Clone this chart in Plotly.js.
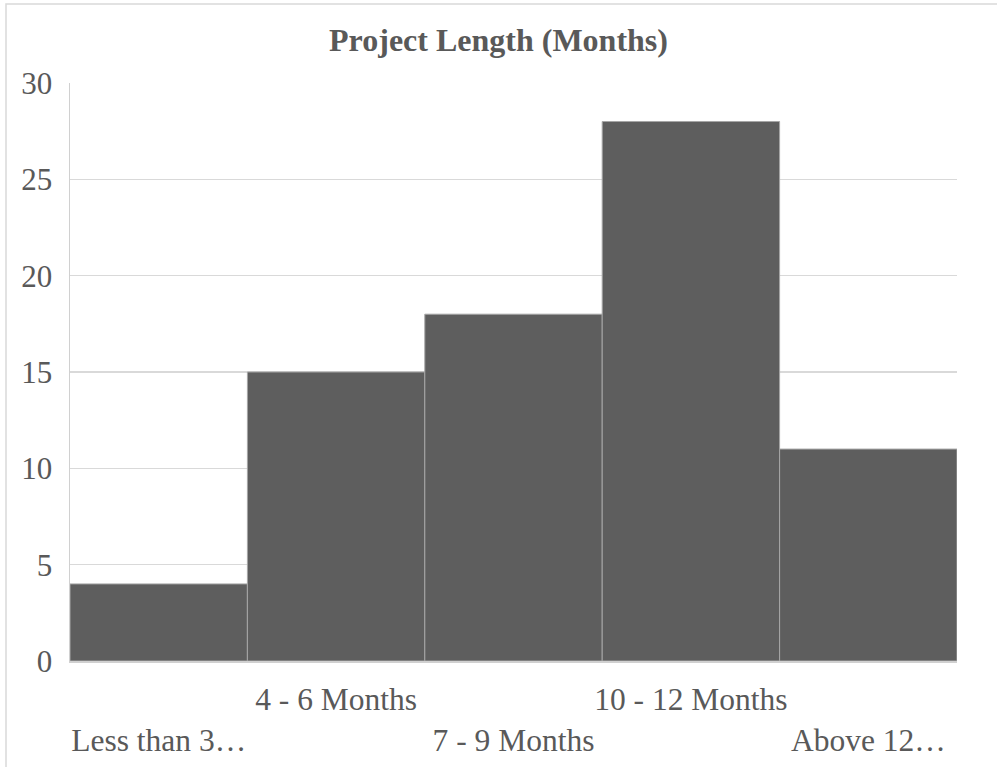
<!DOCTYPE html>
<html>
<head>
<meta charset="utf-8">
<script src="https://cdn.plot.ly/plotly-3.0.1.min.js"></script>
<style>
html,body{margin:0;padding:0;background:#fff;}
#chart{width:997px;height:767px;}
</style>
</head>
<body>
<div id="chart"></div>
<script>
const categories = ["Less than 3…", "4 - 6 Months", "7 - 9 Months", "10 - 12 Months", "Above 12…"];
const counts = [4, 15, 18, 28, 11];
const yTicks = [0, 5, 10, 15, 20, 25, 30];

// staggered labels: odd positions on first row, even positions on second row
const tickText = categories.map((c, i) => (i % 2 === 0 ? "<br>" + c : c));

const textColor = "#595959";
const fontFam = "Liberation Serif, Times New Roman, serif";

const trace = {
  type: "bar",
  x: categories,
  y: counts,
  marker: { color: "#5e5e5e", line: { color: "#a6a6a6", width: 1 } },
  hoverinfo: "skip"
};

const layout = {
  width: 997,
  height: 767,
  margin: { l: 70, r: 40, t: 83, b: 106 },
  paper_bgcolor: "#ffffff",
  plot_bgcolor: "#ffffff",
  bargap: 0,
  showlegend: false,
  title: {
    text: "<b>Project Length (Months)</b>",
    font: { family: fontFam, size: 32, color: textColor },
    x: 0.5, xanchor: "center",
    yref: "container", y: 1 - 40 / 767, yanchor: "middle"
  },
  xaxis: {
    type: "category",
    tickmode: "array",
    tickvals: categories,
    ticktext: tickText,
    tickangle: 0,
    ticks: "",
    showgrid: false,
    showline: true,
    linecolor: "#d0d0d0",
    linewidth: 1.5,
    ticklabelstandoff: 10,
    tickfont: { family: fontFam, size: 31.5, color: textColor },
    fixedrange: true
  },
  yaxis: {
    range: [0, 30],
    tickmode: "array",
    tickvals: yTicks,
    ticks: "",
    showgrid: true,
    gridcolor: "#d9d9d9",
    gridwidth: 1.5,
    zeroline: false,
    showline: true,
    linecolor: "#d0d0d0",
    linewidth: 1.5,
    ticklabelstandoff: 10,
    tickfont: { family: fontFam, size: 31, color: textColor },
    fixedrange: true
  },
  shapes: [{
    type: "rect", xref: "paper", yref: "paper",
    x0: (6 - 70) / 887, x1: (1000 - 70) / 887,
    y0: (661 - 770) / 578, y1: (661 - 4) / 578,
    line: { color: "#d9d9d9", width: 1.5 },
    fillcolor: "rgba(0,0,0,0)",
    layer: "below"
  }]
};

Plotly.newPlot("chart", [trace], layout, { staticPlot: true, displayModeBar: false });
</script>
</body>
</html>
